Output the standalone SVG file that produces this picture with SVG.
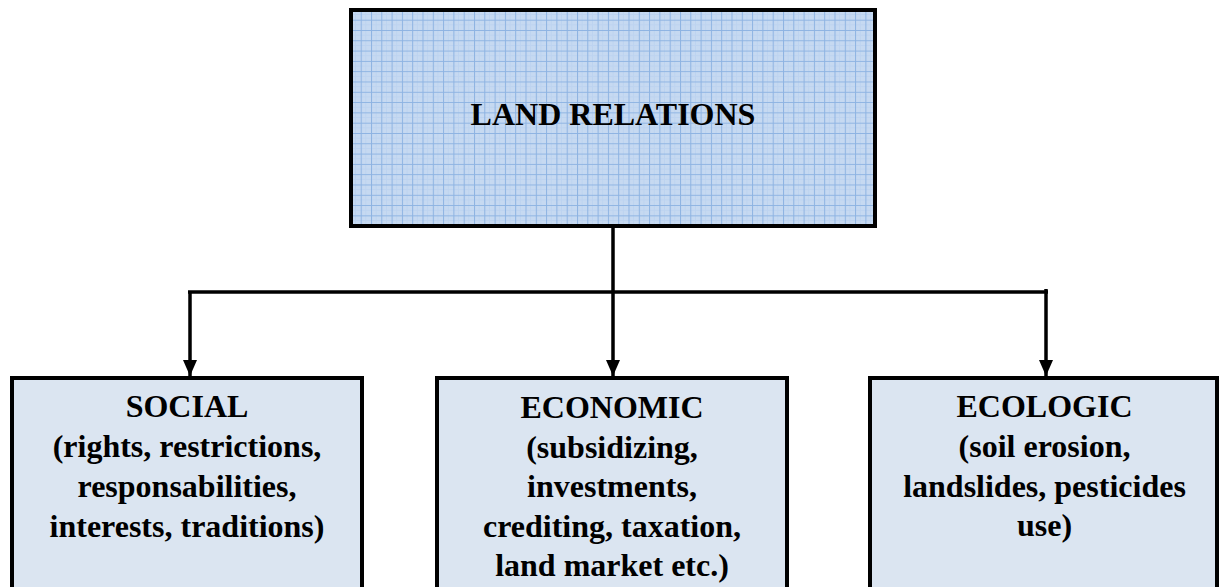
<svg xmlns="http://www.w3.org/2000/svg" width="1219" height="587" viewBox="0 0 1219 587">
<style>
text{font-family:"Liberation Serif","Times New Roman",serif;font-weight:bold;font-size:32px;fill:#000;text-anchor:middle}
.box{fill:#dbe5f1;stroke:#000;stroke-width:4}
.conn{fill:none;stroke:#000;stroke-width:3.5}
</style>
<defs>
<pattern id="grid" patternUnits="userSpaceOnUse" x="350.4" y="9.4" width="10.3" height="10.3">
<rect width="10.3" height="10.3" fill="#c6d9f1"/>
<path d="M0 5.15H10.3M5.15 0V10.3" stroke="#b8cff0" stroke-width="1" opacity="0.6"/>
<path d="M0 0.5H10.3M0.5 0V10.3" stroke="#8db3e2" stroke-width="1"/>
</pattern>
<marker id="arr" markerUnits="userSpaceOnUse" markerWidth="16" markerHeight="18" refX="16" refY="7" orient="auto" viewBox="0 0 16 14">
<path d="M0 0L16 7L0 14Z" fill="#000"/>
</marker>
</defs>
<g id="connectors">
<path class="conn" d="M613 228V292"/>
<path class="conn" d="M188 292H1048"/>
<path class="conn" d="M190 292V376" marker-end="url(#arr)"/>
<path class="conn" d="M613 292V376" marker-end="url(#arr)"/>
<path class="conn" d="M1046 289V376" marker-end="url(#arr)"/>
</g>
<g id="land-relations">
<rect x="351" y="10" width="524" height="216" fill="url(#grid)" stroke="#000" stroke-width="4"/>
<text x="613" y="125">LAND RELATIONS</text>
</g>
<g id="social">
<rect class="box" x="12" y="378" width="350" height="220"/>
<text x="187" y="417">SOCIAL</text>
<text x="187" y="457">(rights, restrictions,</text>
<text x="187" y="497">responsabilities,</text>
<text x="187" y="537">interests, traditions)</text>
</g>
<g id="economic">
<rect class="box" x="437" y="378" width="350" height="220"/>
<text x="612" y="418">ECONOMIC</text>
<text x="612" y="458">(subsidizing,</text>
<text x="612" y="497">investments,</text>
<text x="612" y="537">crediting, taxation,</text>
<text x="612" y="576">land market etc.)</text>
</g>
<g id="ecologic">
<rect class="box" x="870" y="378" width="347" height="220"/>
<text x="1044.5" y="417">ECOLOGIC</text>
<text x="1044.5" y="457">(soil erosion,</text>
<text x="1044.5" y="497">landslides, pesticides</text>
<text x="1044.5" y="536">use)</text>
</g>
</svg>
